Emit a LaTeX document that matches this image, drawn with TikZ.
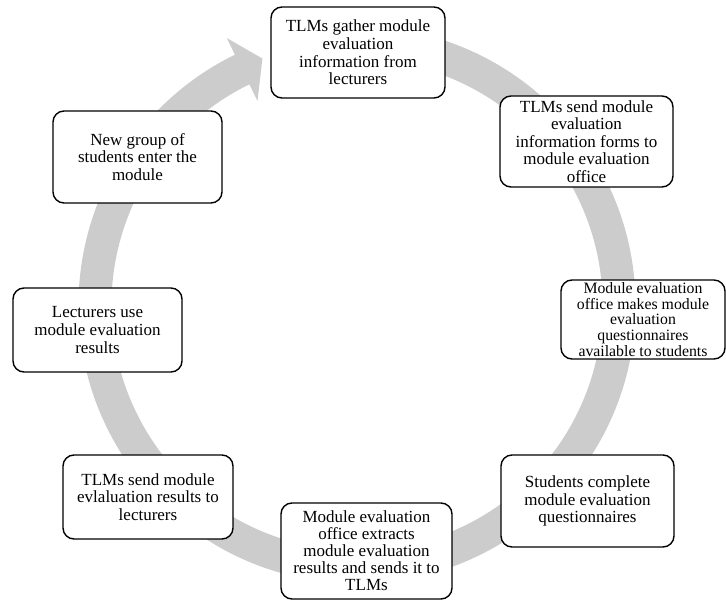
\documentclass[tikz,border=0pt]{standalone}
\usepackage{fontspec}
\setmainfont{Liberation Serif}
\usetikzlibrary{positioning}

\begin{document}
\begin{tikzpicture}[x=1pt, y=1pt,
  stage/.style={rectangle, draw=black, fill=white, line width=1.4pt, rounded corners=11pt, align=center, inner sep=0pt, font=\fontsize{17}{17.6}\selectfont},
  loop arrow/.style={fill=black!20}
]
\useasboundingbox (-357,-296) rectangle (369,305);
% big circular arrow behind the stages
\fill[loop arrow] (90:278.5) arc[start angle=90, end angle=-244, radius=278.5]
  -- (-244:297) -- (-249:264) -- (-244:227) -- (-244:245.5)
  arc[start angle=-244, end angle=90, radius=245.5] -- cycle;
% stages of the cycle
\node[stage, minimum width=174pt, minimum height=91pt] (gather) at (1,252.5) {TLMs gather module\\evaluation\\information from\\lecturers};
\node[stage, minimum width=173pt, minimum height=91pt] (sendforms) at (229.5,163.5) {TLMs send module\\evaluation\\information forms to\\module evaluation\\office};
\node[stage, minimum width=164pt, minimum height=79pt, font=\fontsize{15.8}{15.6}\selectfont] (available) at (286,-14.5) {Module evaluation\\office makes module\\evaluation\\questionnaires\\available to students};
\node[stage, minimum width=173pt, minimum height=92pt] (complete) at (230.5,-196) {Students complete\\module evaluation\\questionnaires};
\node[stage, minimum width=171pt, minimum height=96pt, font=\fontsize{17}{17}\selectfont] (extract) at (9.5,-246) {Module evaluation\\office extracts\\module evaluation\\results and sends it to\\TLMs};
\node[stage, minimum width=170pt, minimum height=84pt] (sendresults) at (-209,-192) {TLMs send module\\evlaluation results to\\lecturers};
\node[stage, minimum width=169pt, minimum height=84pt] (use) at (-259.5,-25) {Lecturers use\\module evaluation\\results};
\node[stage, minimum width=169pt, minimum height=92pt] (newgroup) at (-219.5,148) {New group of\\students enter the\\module};
\end{tikzpicture}
\end{document}
